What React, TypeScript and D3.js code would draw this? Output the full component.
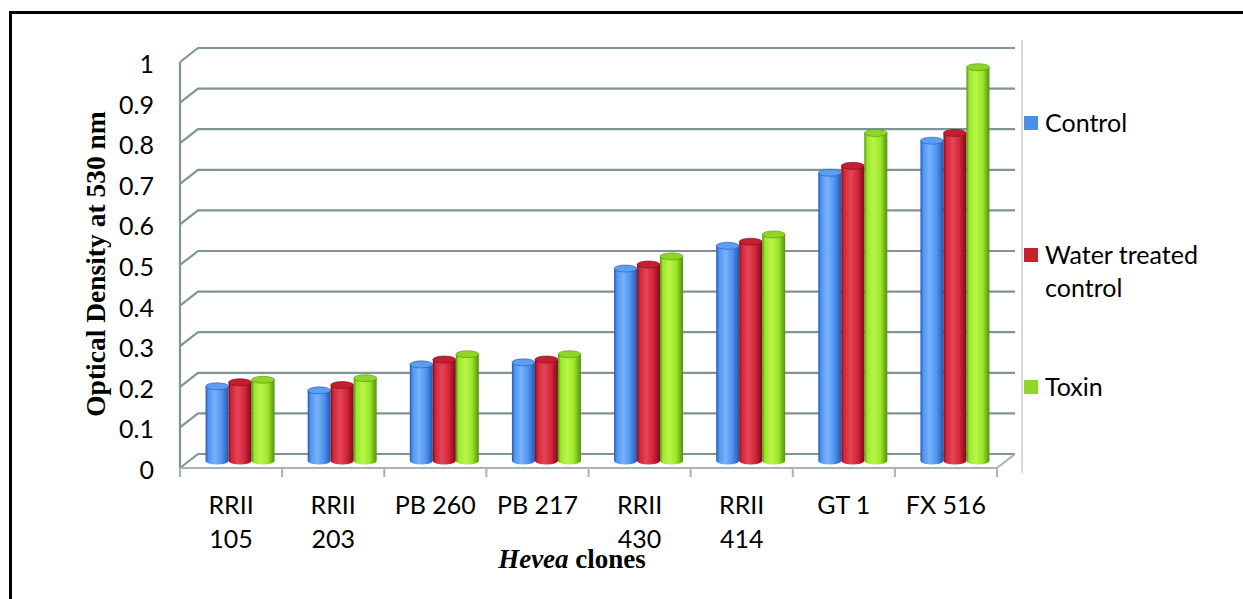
import React from "react";
import * as d3 from "d3";

const categories = [
  ["RRII", "105"],
  ["RRII", "203"],
  ["PB 260"],
  ["PB 217"],
  ["RRII", "430"],
  ["RRII", "414"],
  ["GT 1"],
  ["FX 516"],
];
const seriesNames = ["Control", "Water treated control", "Toxin"];
const legendLines = [["Control"], ["Water treated", "control"], ["Toxin"]];
const controlValues = [0.184, 0.174, 0.238, 0.243, 0.474, 0.53, 0.71, 0.789];
const waterValues = [0.194, 0.187, 0.25, 0.25, 0.484, 0.54, 0.727, 0.808];
const toxinValues = [0.2, 0.204, 0.263, 0.263, 0.504, 0.558, 0.808, 0.97];
const yTicks = [0, 0.1, 0.2, 0.3, 0.4, 0.5, 0.6, 0.7, 0.8, 0.9, 1];

const seriesValues = [controlValues, waterValues, toxinValues];
const colors = [
  { mid: "#4f95f0", light: "#78b2fa", dark: "#2457b0", top: "#5c9ff2" },
  { mid: "#d42638", light: "#e44558", dark: "#7a0c1a", top: "#c21f31" },
  { mid: "#9ce82a", light: "#b8f548", dark: "#569010", top: "#8ed626" },
];
const legendColors = ["#4a90e8", "#c8202f", "#8fd82a"];

const DX = 18;
const DY = 14;

export default function App() {
  const catKeys = categories.map((c) => c.join(" "));
  const x0 = d3.scaleBand<string>().domain(catKeys).range([180, 997]).paddingInner(0);
  const groupW = 69;
  const x1 = d3.scaleBand<string>().domain(seriesNames).range([0, groupW]);
  const yF = d3.scaleLinear().domain([0, 1]).range([468, 62]);
  const yMid = (v: number) => yF(v) - DY / 2;
  const gridColor = "#819494";
  const bw = x1.bandwidth();
  const ry = 3.5;

  return (
    <svg
      width={1243}
      height={599}
      style={{ position: "absolute", left: 0, top: 0, background: "#fff" }}
    >
      <defs>
        {colors.map((c, i) => (
          <linearGradient id={`g${i}`} key={i} x1="0" x2="1" y1="0" y2="0">
            <stop offset="0" stopColor={c.dark} />
            <stop offset="0.12" stopColor={c.mid} />
            <stop offset="0.4" stopColor={c.light} />
            <stop offset="0.7" stopColor={c.mid} />
            <stop offset="1" stopColor={c.dark} />
          </linearGradient>
        ))}
      </defs>
      {/* frame */}
      <line x1={9} x2={1243} y1={12.5} y2={12.5} stroke="#000" strokeWidth={3} />
      <line x1={10.5} x2={10.5} y1={11} y2={599} stroke="#000" strokeWidth={3} />

      {/* gridlines */}
      {yTicks.map((t) => (
        <polyline
          key={t}
          points={`180,${yF(t)} ${180 + DX},${yF(t) - DY} 1015,${yF(t) - DY}`}
          fill="none"
          stroke={gridColor}
          strokeWidth={2.2}
        />
      ))}
      <line x1={180} x2={180} y1={yF(0)} y2={yF(1)} stroke={gridColor} strokeWidth={2.2} />
      {/* floor front edge */}
      <polyline
        points={`180,${yF(0)} 997,${yF(0)} ${997 + DX},${yF(0) - DY}`}
        fill="none"
        stroke="#a8b4b4"
        strokeWidth={2}
      />
      {catKeys.map((k) => (
        <line key={k} x1={x0(k)!} x2={x0(k)!} y1={yF(0)} y2={yF(0) + 9} stroke="#a8b4b4" strokeWidth={2} />
      ))}
      <line x1={997} x2={997} y1={yF(0)} y2={yF(0) + 9} stroke="#a8b4b4" strokeWidth={2} />

      {/* y tick labels */}
      {yTicks.map((t) => (
        <text
          key={t}
          x={154}
          y={yF(t) + 1}
          textAnchor="end"
          dominantBaseline="central"
          fontFamily="Lato"
          fontSize={25}
          fill="#000"
        >
          {d3.format("~g")(t)}
        </text>
      ))}

      {/* bars */}
      {catKeys.map((k, ci) => {
        const gx = x0(k)! + x0.bandwidth() / 2 + DX / 2 - groupW / 2;
        return seriesNames.map((s, si) => {
          const v = seriesValues[si][ci];
          const bx = gx + x1(s)!;
          const yb = yMid(0);
          const yt = yMid(v);
          const c = colors[si];
          return (
            <g key={k + s}>
              <path
                d={`M${bx},${yt} L${bx},${yb} A${bw / 2},${ry} 0 0 0 ${bx + bw},${yb} L${bx + bw},${yt} Z`}
                fill={`url(#g${si})`}
              />
              <ellipse cx={bx + bw / 2} cy={yt} rx={bw / 2} ry={ry} fill={c.top} stroke={c.dark} strokeWidth={0.6} />
            </g>
          );
        });
      })}

      {/* category labels */}
      {categories.map((c, i) => {
        const cx = x0(catKeys[i])! + x0.bandwidth() / 2;
        return (
          <text key={i} x={cx} y={514} textAnchor="middle" fontFamily="Lato" fontSize={25} fill="#000">
            {c.map((l, j) => (
              <tspan key={j} x={cx} dy={j === 0 ? 0 : 34}>
                {l}
              </tspan>
            ))}
          </text>
        );
      })}

      {/* axis titles */}
      <text
        transform="translate(95,264) rotate(-90)"
        textAnchor="middle"
        dominantBaseline="central"
        fontFamily="Liberation Serif"
        fontWeight="bold"
        fontSize={27.5}
        fill="#000"
      >
        Optical Density at 530 nm
      </text>
      <text x={572} y={568} textAnchor="middle" fontFamily="Liberation Serif" fontWeight="bold" fontSize={27} fill="#000">
        <tspan fontStyle="italic">Hevea</tspan> clones
      </text>

      {/* legend */}
      <line x1={1022} x2={1022} y1={40} y2={473} stroke="#d9d9d9" strokeWidth={2} />
      {legendLines.map((lines, i) => {
        const ys = [123, 255, 387][i];
        return (
          <g key={i}>
            <rect x={1024} y={ys - 7} width={14} height={14} fill={legendColors[i]} />
            <text x={1045} y={ys + 9} fontFamily="Lato" fontSize={25} fill="#000">
              {lines.map((l, j) => (
                <tspan key={j} x={1045} dy={j === 0 ? 0 : 33}>
                  {l}
                </tspan>
              ))}
            </text>
          </g>
        );
      })}
    </svg>
  );
}
